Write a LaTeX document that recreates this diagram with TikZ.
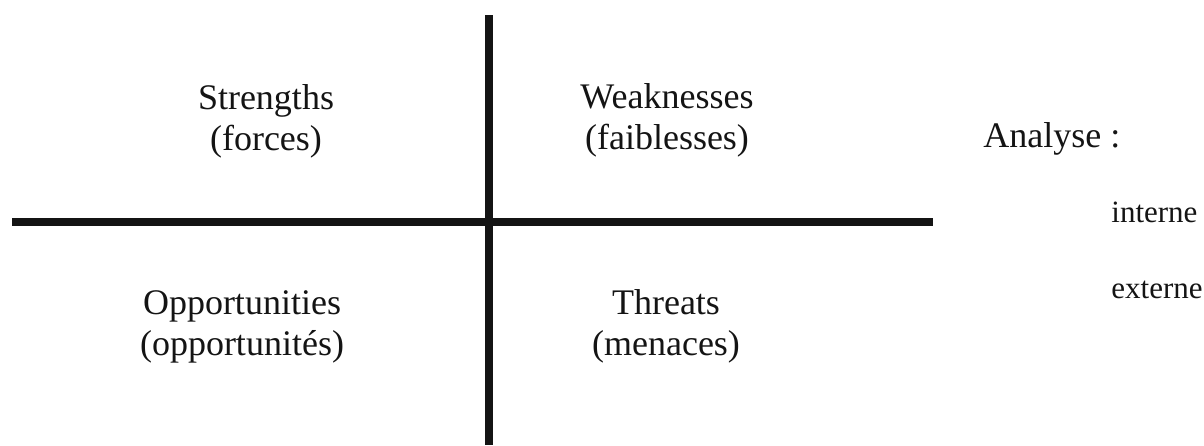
\documentclass[tikz,border=0pt]{standalone}
\usepackage{fontspec}
\setmainfont{Liberation Serif}
\usepackage{tikz}
\usetikzlibrary{positioning}
\definecolor{ink}{HTML}{141414}
\tikzset{
    every picture/.style={line cap=butt,line join=miter},
    axisline/.style={draw=ink,line width=4pt},
    quadlabel/.style={align=center,inner sep=0pt,text=ink,
      font=\fontsize{18}{20.5}\selectfont},
    sidehead/.style={anchor=base west,inner sep=0pt,text=ink,
      font=\fontsize{18}{20.5}\selectfont},
    sidelabel/.style={anchor=base west,inner sep=0pt,text=ink,
      font=\fontsize{15.5}{18}\selectfont}
}
\begin{document}
\begin{tikzpicture}[x=0.5pt,y=-0.5pt]
  \useasboundingbox (0,0) rectangle (1204,445);
  % axes of the grid
  \coordinate (vtop) at (489,15);
  \coordinate (vbot) at (489,445);
  \coordinate (hleft) at (12,222);
  \coordinate (hright) at (933,222);
  \draw[axisline] (vtop) -- (vbot);
  \draw[axisline] (hleft) -- (hright);
  % the four boxes
  \node[quadlabel] (str) at (266,121) {Strengths\\(forces)};
  \node[quadlabel] (weak) at (667,120) {Weaknesses\\(faiblesses)};
  \node[quadlabel] (opp) at (242,327) {Opportunities\\(opportunités)};
  \node[quadlabel] (thr) at (666,326) {Threats\\(menaces)};
  % right hand side
  \node[sidehead] (ana) at (983,147) {Analyse :};
  \node[sidelabel] (int) at (1111,222) {interne};
  \node[sidelabel] (ext) at (1111,298) {externe};
\end{tikzpicture}
\end{document}
